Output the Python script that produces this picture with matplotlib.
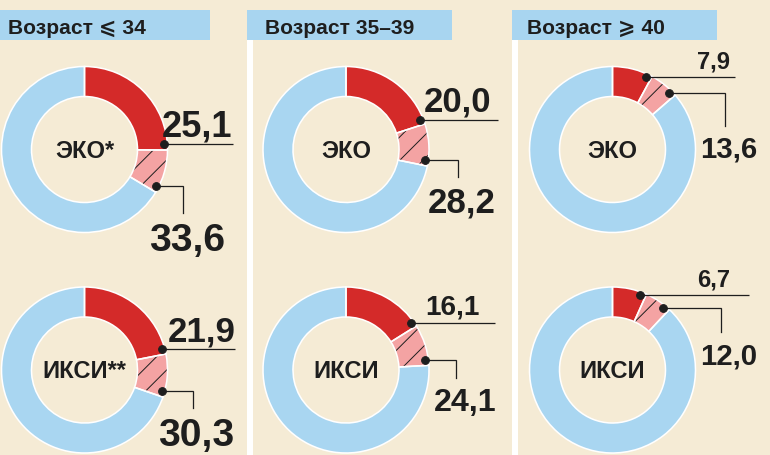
import numpy as np
import matplotlib
matplotlib.use('Agg')
import matplotlib.pyplot as plt
from matplotlib.patches import Rectangle

plt.rcParams['font.family'] = ['Liberation Sans', 'DejaVu Sans']
plt.rcParams['hatch.linewidth'] = 1.0

# --- data ---
groups = ['Возраст ⩽ 34', 'Возраст 35–39', 'Возраст ⩾ 40']
methods = [['ЭКО*', 'ИКСИ**'], ['ЭКО', 'ИКСИ'], ['ЭКО', 'ИКСИ']]
share_a = [[25.1, 21.9], [20.0, 16.1], [7.9, 6.7]]     # red part
share_b = [[33.6, 30.3], [28.2, 24.1], [13.6, 12.0]]   # red + hatched part

# --- colours ---
BG = '#f5ebd5'
HEAD = '#a8d5f0'
RED = '#d42a29'
PINK = '#f4a3a3'
BLUE = '#a9d6f1'
INK = '#1e1e1e'

# --- layout (pixels, y measured from the top) ---
W, H, DPI = 770, 455, 70
col_x = [84.5, 346, 612.5]
row_top = [149.5, 370]
R_OUT, RING = 83, 30
head_x0 = [0, 247, 512]
head_x1 = [210, 452, 717]
head_tx = [8, 265, 527]
seps = [247, 512]

line_a = [[148, 150], [152, 149], [122, 136]]
text_a = [[148, 151], [145, 134], [118, 118]]
elbow_b = [[98, 108], [112, 110], [112, 108]]
drop_b = [[27, 17], [17, 18], [33, 24]]
shift_b = [[5, 4], [4, 9], [4, 8]]
cap_a = [[26, 25], [25, 20], [17, 17]]
cap_b = [[28, 28], [25, 23], [21, 21]]


def fmt(v):
    return f'{v:.1f}'.replace('.', ',')


def pt(cap_px, ratio=0.716):
    # font size in points for a given digit/cap height in pixels
    return cap_px / (ratio * DPI / 72)


def ty(y):
    return H - y


fig = plt.figure(figsize=(W / DPI, H / DPI), dpi=DPI, facecolor=BG)
ax = fig.add_axes([0, 0, 1, 1])
ax.set_facecolor(BG)

# header bands and white separators
for i, g in enumerate(groups):
    ax.add_patch(Rectangle((head_x0[i], ty(40)), head_x1[i] - head_x0[i], 30,
                           facecolor=HEAD, edgecolor='none', zorder=1))
    ax.text(head_tx[i], ty(34), g, fontsize=pt(15), fontweight='bold',
            color=INK, ha='left', va='baseline', zorder=3)
for sx in seps:
    ax.add_patch(Rectangle((sx, 0), 6, ty(40), facecolor='white',
                           edgecolor='none', zorder=1))

for c in range(3):
    for r in range(2):
        cx, cy = col_x[c], ty(row_top[r])
        a, b = share_a[c][r], share_b[c][r]
        vals = [a, b - a, 100 - b]
        wedges, _ = ax.pie(vals, center=(cx, cy), radius=R_OUT, startangle=90,
                           counterclock=False, colors=[RED, PINK, BLUE],
                           wedgeprops=dict(width=RING, linewidth=0))
        for w in wedges:
            w.set_zorder(2)
        # hatch colour follows edge colour, keep it black with zero width
        wedges[1].set_edgecolor(INK)
        wedges[1].set_linewidth(0)
        wedges[1].set_hatch('/')
        outl, _ = ax.pie(vals, center=(cx, cy), radius=R_OUT, startangle=90,
                         counterclock=False,
                         wedgeprops=dict(width=RING, fill=False,
                                         edgecolor='white', linewidth=1.6))
        for w in outl:
            w.set_zorder(2.5)

        # centre label
        ax.text(cx, cy - 8.5, methods[c][r], fontsize=pt(17),
                fontweight='bold', color=INK, ha='center', va='baseline',
                zorder=4)

        # first value: dot + horizontal leader
        ang = np.deg2rad(90 - a * 3.6 + 4)
        dx, dy = cx + 80 * np.cos(ang), cy + 80 * np.sin(ang)
        ax.plot([dx, cx + line_a[c][r]], [dy, dy], color=INK, lw=1.3,
                zorder=5, solid_capstyle='butt')
        ax.plot(dx, dy, 'o', color=INK, ms=8, zorder=6)
        ax.text(cx + text_a[c][r], dy + 8, fmt(a), fontsize=pt(cap_a[c][r]),
                fontweight='bold', color=INK, ha='right', va='baseline',
                zorder=5)

        # second value: dot + elbow leader
        ang = np.deg2rad(90 - b * 3.6 + 4)
        dx, dy = cx + 80 * np.cos(ang), cy + 80 * np.sin(ang)
        ex = cx + elbow_b[c][r]
        ey = dy - drop_b[c][r]
        ax.plot([dx, ex, ex], [dy, dy, ey], color=INK, lw=1.3, zorder=5,
                solid_joinstyle='miter')
        ax.plot(dx, dy, 'o', color=INK, ms=8, zorder=6)
        ax.text(ex + shift_b[c][r], ey - 10, fmt(b), fontsize=pt(cap_b[c][r]),
                fontweight='bold', color=INK, ha='center', va='top', zorder=5)

ax.set_xlim(0, W)
ax.set_ylim(0, H)
ax.set_aspect('equal')
ax.axis('off')

fig.savefig('out.png', dpi=DPI, facecolor=BG)
